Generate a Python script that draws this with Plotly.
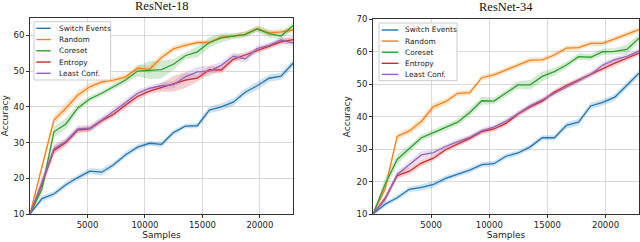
import plotly.graph_objects as go

# ---------------- data ----------------
samples = [0, 1040, 2080, 3120, 4160, 5200, 6240, 7280, 8320, 9360, 10400, 11440,
           12480, 13520, 14560, 15600, 16640, 17680, 18720, 19760, 20800, 21840, 22880]

series_names = ["Switch Events", "Random", "Coreset", "Entropy", "Least Conf."]
panel_titles = ["ResNet-18", "ResNet-34"]
x_ticks = [5000, 10000, 15000, 20000]
y_ticks_left = [10, 20, 30, 40, 50, 60]
y_ticks_right = [10, 20, 30, 40, 50, 60, 70]

# ResNet-18 (left)
r18_switch = [10, 14.3, 15.6, 18.2, 20.2, 22.0, 21.7, 23.8, 26.6, 28.7, 29.8, 29.5, 32.8, 34.6, 34.7, 39.1, 40.0, 41.3, 44.1, 45.9, 48.0, 48.6, 52.2]
r18_random = [10, 23.5, 36.3, 39.6, 43.3, 45.6, 47.0, 47.5, 48.4, 50.8, 50.5, 53.8, 56.2, 57.2, 58.0, 58.0, 59.5, 59.8, 60.3, 61.9, 60.7, 61.0, 61.5]
r18_coreset = [10, 17.0, 33.0, 35.2, 39.7, 42.2, 43.8, 45.6, 47.5, 50.0, 50.3, 50.4, 51.9, 54.3, 55.4, 58.0, 59.3, 59.8, 60.3, 61.8, 60.5, 59.8, 62.7]
r18_entropy = [10, 18.5, 27.8, 30.0, 33.5, 33.8, 36.1, 37.9, 40.5, 42.9, 44.4, 45.4, 46.4, 47.5, 48.0, 50.4, 50.3, 53.3, 54.5, 55.8, 57.0, 58.2, 58.8]
r18_leastconf = [10, 18.8, 28.3, 30.3, 33.8, 34.0, 36.3, 38.7, 41.2, 43.8, 45.2, 45.9, 46.2, 48.4, 49.8, 50.0, 51.6, 54.2, 53.4, 56.3, 57.2, 58.7, 57.9]

r18_switch_err = [0.3, 0.9, 0.8, 0.8, 0.8, 0.8, 1.0, 0.8, 0.8, 0.8, 0.6, 0.8, 0.8, 0.6, 0.8, 0.9, 1.0, 1.0, 1.0, 1.2, 1.0, 1.0, 1.0]
r18_random_err = [0.3, 1.0, 1.2, 1.3, 1.2, 1.0, 0.8, 0.8, 0.8, 0.8, 1.0, 1.0, 0.8, 0.8, 0.6, 0.6, 0.6, 0.6, 0.8, 0.8, 0.8, 0.8, 0.8]
r18_coreset_err = [0.3, 1.5, 1.5, 1.5, 1.0, 0.8, 0.8, 0.8, 0.8, 1.5, 2.5, 2.5, 1.5, 1.0, 1.5, 1.5, 1.2, 0.8, 0.8, 0.8, 1.0, 1.0, 1.0]
r18_entropy_err = [0.3, 1.5, 1.2, 1.0, 0.8, 0.8, 0.8, 0.8, 1.0, 1.0, 0.8, 1.2, 2.2, 2.2, 1.0, 1.0, 1.0, 1.0, 0.8, 0.8, 0.8, 0.8, 1.0]
r18_leastconf_err = [0.3, 1.5, 1.2, 1.0, 1.0, 1.0, 1.0, 1.0, 1.0, 1.0, 0.8, 1.0, 1.0, 1.2, 1.5, 1.5, 1.0, 1.0, 1.2, 0.8, 0.8, 0.8, 1.0]

# ResNet-34 (right)
r34_switch = [10, 13.0, 15.0, 17.6, 18.2, 19.1, 21.0, 22.3, 23.5, 25.2, 25.5, 27.8, 28.8, 30.7, 33.5, 33.5, 37.3, 38.3, 43.3, 44.4, 46.0, 49.7, 53.4]
r34_random = [10, 17.8, 33.9, 35.6, 38.5, 43.1, 44.6, 47.2, 47.4, 52.0, 52.9, 54.4, 55.9, 57.4, 57.5, 59.0, 61.1, 61.3, 62.6, 62.6, 64.0, 65.4, 66.8]
r34_coreset = [10, 19.2, 26.8, 30.0, 33.5, 35.1, 36.7, 38.3, 41.3, 44.9, 44.8, 47.2, 49.8, 49.8, 52.4, 53.9, 55.9, 58.5, 58.3, 60.0, 60.1, 60.7, 64.2]
r34_entropy = [10, 14.8, 21.8, 23.2, 25.7, 27.2, 29.8, 31.6, 33.3, 35.4, 36.2, 37.9, 40.8, 43.0, 44.8, 47.6, 49.6, 51.3, 53.1, 54.9, 56.5, 58.0, 59.6]
r34_leastconf = [10, 14.5, 22.2, 25.2, 28.2, 28.9, 30.8, 32.3, 33.6, 35.6, 36.8, 38.6, 41.0, 43.3, 45.2, 47.2, 49.2, 51.0, 53.0, 55.9, 57.6, 58.6, 60.2]

r34_switch_err = [0.3, 0.8, 0.8, 0.8, 1.0, 1.0, 0.8, 0.8, 0.8, 0.8, 0.8, 0.8, 0.8, 0.8, 0.8, 0.8, 1.0, 1.0, 1.0, 1.0, 1.0, 1.0, 1.0]
r34_random_err = [0.3, 1.0, 1.0, 1.0, 1.2, 1.2, 1.0, 0.8, 0.8, 0.8, 0.8, 0.8, 0.8, 0.8, 0.8, 0.8, 0.8, 0.8, 0.8, 0.8, 0.8, 0.8, 0.8]
r34_coreset_err = [0.3, 2.0, 1.5, 1.2, 1.0, 1.0, 1.0, 1.0, 1.2, 1.2, 1.0, 1.0, 1.2, 1.5, 1.5, 1.2, 1.0, 1.0, 1.0, 1.0, 1.0, 1.5, 1.2]
r34_entropy_err = [0.3, 1.0, 1.0, 1.0, 1.0, 0.8, 0.8, 0.8, 0.8, 0.8, 0.8, 0.8, 0.8, 0.8, 0.8, 0.8, 0.8, 0.8, 0.8, 0.8, 0.8, 0.8, 0.8]
r34_leastconf_err = [0.3, 1.0, 1.0, 1.2, 1.2, 1.0, 0.8, 0.8, 0.8, 0.8, 0.8, 0.8, 0.8, 0.8, 0.8, 0.8, 0.8, 0.8, 0.8, 0.8, 0.8, 0.8, 0.8]

colors = ["#1f77b4", "#ff7f0e", "#2ca02c", "#d62728", "#9467bd"]
fills = ["rgba(31,119,180,0.22)", "rgba(255,127,14,0.22)", "rgba(44,160,44,0.22)",
         "rgba(214,39,40,0.22)", "rgba(148,103,189,0.22)"]

W, H = 640, 242
ML, MR, MT, MB = 30, 1, 17, 28
PW, PH = W - ML - MR, H - MT - MB


def px_x(p):  # figure pixel -> paper x
    return (p - ML) / PW


def px_y(p):  # figure pixel (from top) -> paper y
    return (H - MB - p) / PH


def clamp(v):
    return min(1.0, max(0.0, v))


panels = [
    dict(xa="x", ya="y",
         means=[r18_switch, r18_random, r18_coreset, r18_entropy, r18_leastconf],
         errs=[r18_switch_err, r18_random_err, r18_coreset_err, r18_entropy_err, r18_leastconf_err],
         legend_box=(34, 21.7, 110.7, 80.0), line_x=(36.3, 50.7), text_x=56.5, row0=28.3, row_step=11.25),
    dict(xa="x2", ya="y2",
         means=[r34_switch, r34_random, r34_coreset, r34_entropy, r34_leastconf],
         errs=[r34_switch_err, r34_random_err, r34_coreset_err, r34_entropy_err, r34_leastconf_err],
         legend_box=(379, 23.0, 457, 80.7), line_x=(381.7, 398.3), text_x=402.5, row0=30.0, row_step=11.1),
]

fig = go.Figure()
shapes, annotations = [], []
for p in panels:
    for i, (m, e) in enumerate(zip(p["means"], p["errs"])):
        upper = [a + b for a, b in zip(m, e)]
        lower = [a - b for a, b in zip(m, e)]
        fig.add_trace(go.Scatter(
            x=samples + samples[::-1], y=upper + lower[::-1],
            fill="toself", fillcolor=fills[i], line=dict(width=0),
            mode="lines", hoverinfo="skip", showlegend=False,
            xaxis=p["xa"], yaxis=p["ya"]))
    for i, m in enumerate(p["means"]):
        fig.add_trace(go.Scatter(
            x=samples, y=m, mode="lines", name=series_names[i], showlegend=False,
            line=dict(color=colors[i], width=1.3),
            xaxis=p["xa"], yaxis=p["ya"]))
    # legend box (drawn as layout decoration)
    x0, y0, x1, y1 = p["legend_box"]
    shapes.append(dict(type="rect", xref="paper", yref="paper",
                       x0=px_x(x0), x1=px_x(x1), y0=px_y(y1), y1=px_y(y0),
                       fillcolor="rgba(255,255,255,0.85)", line=dict(color="#cccccc", width=1),
                       layer="above"))
    for i, name in enumerate(series_names):
        yy = p["row0"] + i * p["row_step"]
        shapes.append(dict(type="line", xref="paper", yref="paper",
                           x0=px_x(p["line_x"][0]), x1=px_x(p["line_x"][1]),
                           y0=px_y(yy), y1=px_y(yy),
                           line=dict(color=colors[i], width=1.4), layer="above"))
        annotations.append(dict(text=name, xref="paper", yref="paper",
                                x=px_x(p["text_x"]), y=px_y(yy), xanchor="left", yanchor="middle",
                                showarrow=False,
                                font=dict(family="DejaVu Sans", size=7.4, color="#222")))

annotations.append(dict(text=panel_titles[0], x=px_x((30 + 293) / 2), y=px_y(6.0),
                        xref="paper", yref="paper", xanchor="center", yanchor="middle",
                        showarrow=False, font=dict(family="Liberation Serif", size=12.5, color="#111")))
annotations.append(dict(text=panel_titles[1], x=px_x((373 + 639) / 2), y=px_y(7.0),
                        xref="paper", yref="paper", xanchor="center", yanchor="middle",
                        showarrow=False, font=dict(family="Liberation Serif", size=12.5, color="#111")))

axis_font = dict(family="DejaVu Sans", size=8.5, color="#222")
title_font = dict(family="DejaVu Sans", size=9, color="#222")
common_x = dict(range=[0, samples[-1]], tickvals=x_ticks, tickformat="d", ticks="outside", ticklen=3,
                tickcolor="#333", showline=True, linecolor="#333", linewidth=1, mirror=True,
                showgrid=True, gridcolor="#d9d9d9", gridwidth=1, zeroline=False,
                tickfont=axis_font, automargin=False,
                title=dict(text="Samples", font=title_font, standoff=2))
common_y = dict(ticks="outside", ticklen=3, tickcolor="#333", showline=True, linecolor="#333",
                linewidth=1, mirror=True, showgrid=True, gridcolor="#d9d9d9", gridwidth=1,
                zeroline=False, tickfont=axis_font, automargin=False,
                title=dict(text="Accuracy", font=title_font, standoff=4))

fig.update_layout(
    width=W, height=H, margin=dict(l=ML, r=MR, t=MT, b=MB),
    paper_bgcolor="white", plot_bgcolor="white", showlegend=False,
    xaxis=dict(domain=[clamp(px_x(30)), clamp(px_x(293))], anchor="y", **common_x),
    yaxis=dict(domain=[clamp(px_y(214.3)), clamp(px_y(17.5))], anchor="x", range=[10, 65],
               tickvals=y_ticks_left, **common_y),
    xaxis2=dict(domain=[clamp(px_x(373)), clamp(px_x(639))], anchor="y2", **common_x),
    yaxis2=dict(domain=[clamp(px_y(214.3)), clamp(px_y(19.3))], anchor="x2", range=[10, 70],
                tickvals=y_ticks_right, **common_y),
    shapes=shapes,
    annotations=annotations,
)

fig.write_html("out.html",
               config={"displayModeBar": False},
               post_script="document.body.style.margin='0';document.body.style.padding='0';"
                           "document.body.style.overflow='hidden';")
